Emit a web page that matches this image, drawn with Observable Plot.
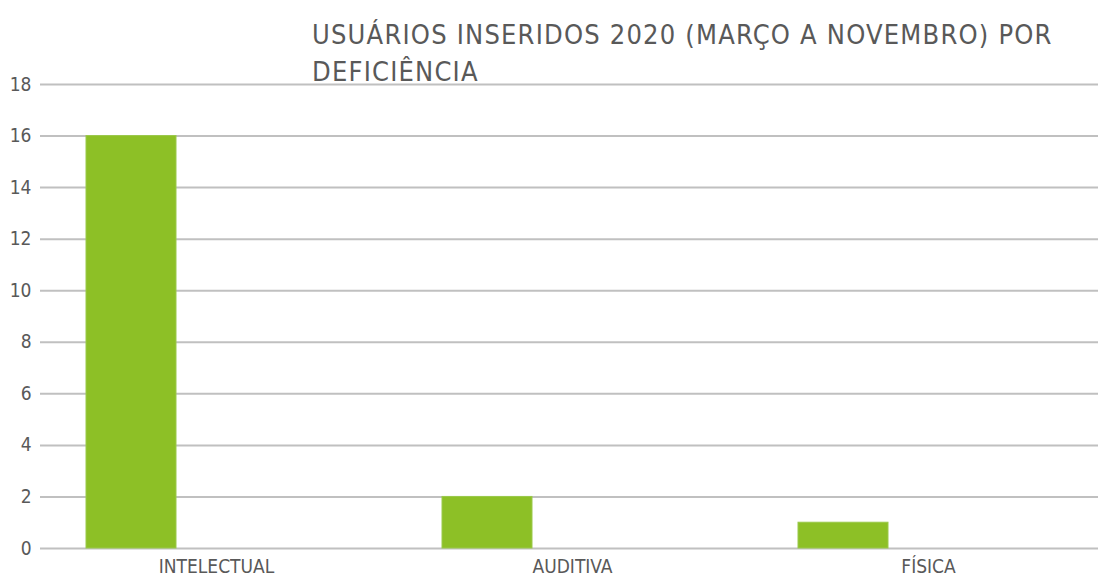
<!DOCTYPE html>
<html>
<head>
<meta charset="utf-8">
<script src="https://cdn.jsdelivr.net/npm/d3@7"></script>
<script src="https://cdn.jsdelivr.net/npm/@observablehq/plot@0.6"></script>
<style>
  body { margin: 0; background: #fff; }
  #wrap { position: relative; width: 1098px; height: 579px; overflow: hidden; }
  #title {
    position: absolute; left: 312px; top: 16px; width: 785px;
    font-family: "DejaVu Sans Condensed", "DejaVu Sans", sans-serif;
    font-size: 27px; line-height: 37px; letter-spacing: 1.2px; color: #595959; z-index: 2;
  }
  #chart { position: absolute; left: 0; top: 0; }
</style>
</head>
<body>
<div id="wrap">
  <div id="title">USUÁRIOS INSERIDOS 2020 (MARÇO A NOVEMBRO) POR<br>DEFICIÊNCIA</div>
  <div id="chart"></div>
</div>
<script>
const categories = ["INTELECTUAL", "AUDITIVA", "FÍSICA"];
const values = [16, 2, 1];
const yTicks = [0, 2, 4, 6, 8, 10, 12, 14, 16, 18];

const data = categories.map((c, i) => ({category: c, value: values[i]}));

const chart = Plot.plot({
  width: 1098,
  height: 579,
  marginTop: 84,
  marginBottom: 31,
  marginLeft: 40,
  marginRight: 0,
  style: {fontFamily: "'DejaVu Sans Condensed', 'DejaVu Sans', sans-serif", fontSize: "15px", color: "#595959", background: "#fff"},
  x: {domain: categories, range: [37, 1106], padding: 0, label: null},
  y: {domain: [0, 18], label: null},
  marks: [
    Plot.ruleY(yTicks, {stroke: "#c0c0c0", strokeWidth: 2}),
    Plot.barY(data, {x: "category", y: "value", fill: "#8dc026", stroke: "#9ac94a", strokeWidth: 1, insetLeft: 48, insetRight: 218}),
    Plot.axisY({ticks: yTicks, tickSize: 0, tickPadding: 9, fontSize: 19, fill: "#595959", label: null}),
    Plot.axisX({tickSize: 0, tickPadding: 11, fontSize: 19, fill: "#595959", label: null})
  ]
});
document.getElementById("chart").appendChild(chart);
</script>
</body>
</html>
